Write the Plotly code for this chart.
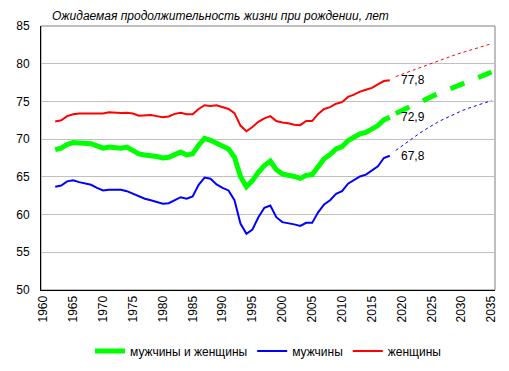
import plotly.graph_objects as go

years = list(range(1962, 2019))
total = [68.6, 68.8, 69.3, 69.55, 69.5, 69.5, 69.4, 69.1, 68.8, 68.95, 68.85, 68.8, 68.95, 68.5,
         68.05, 67.9, 67.85, 67.7, 67.5, 67.6, 67.95, 68.3, 67.9, 68.05, 69.2, 70.1, 69.85, 69.5,
         69.1, 68.7, 67.6, 65.05, 63.7, 64.5, 65.6, 66.5, 67.1, 65.95, 65.4, 65.3, 65.05, 64.8,
         65.2, 65.3, 66.4, 67.4, 67.95, 68.7, 69.0, 69.8, 70.25, 70.7, 70.9, 71.4, 71.8, 72.55, 72.9]
men = [63.7, 63.85, 64.4, 64.55, 64.3, 64.15, 63.95, 63.55, 63.2, 63.3, 63.3, 63.3, 63.1, 62.75,
       62.4, 62.1, 61.9, 61.7, 61.45, 61.5, 61.85, 62.3, 62.1, 62.4, 63.95, 64.9, 64.75, 64.0,
       63.55, 63.2, 61.9, 58.8, 57.45, 58.0, 59.65, 60.9, 61.2, 59.65, 59.0, 58.9, 58.7, 58.5,
       58.9, 58.9, 60.3, 61.35, 61.9, 62.75, 63.1, 64.1, 64.6, 65.05, 65.3, 65.85, 66.4, 67.5, 67.8]
women = [72.35, 72.5, 73.05, 73.3, 73.4, 73.4, 73.4, 73.35, 73.4, 73.55, 73.45, 73.45, 73.5, 73.4,
         73.1, 73.15, 73.2, 73.05, 72.9, 73.0, 73.35, 73.5, 73.3, 73.3, 74.0, 74.5, 74.4, 74.5,
         74.25, 74.0, 73.45, 71.8, 71.05, 71.6, 72.3, 72.75, 73.05, 72.4, 72.2, 72.1, 71.9, 71.85,
         72.4, 72.4, 73.35, 74.0, 74.25, 74.7, 74.9, 75.6, 75.9, 76.3, 76.55, 76.8, 77.25, 77.7, 77.8]

f_years = list(range(2019, 2036))
f_total = [73.4, 73.8, 74.2, 74.6, 74.95, 75.3, 75.65, 76.0, 76.3, 76.65, 77.0, 77.3, 77.6,
           77.95, 78.25, 78.55, 78.9]
f_men = [68.5, 69.1, 69.7, 70.25, 70.8, 71.3, 71.8, 72.25, 72.65, 73.05, 73.4, 73.75, 74.05,
         74.35, 74.6, 74.85, 75.1]
f_women = [78.3, 78.6, 78.9, 79.2, 79.5, 79.8, 80.1, 80.4, 80.7, 80.95, 81.2, 81.45, 81.7,
           81.9, 82.15, 82.4, 82.65]

last_labels = ["72,9", "67,8", "77,8"]

GREEN, BLUE, RED = "#00ff00", "#0000ff", "#ff0000"

# the page body adds an 8px offset, so layout positions are shifted by -8px
OFF = 8
W, H = 509, 371

fig = go.Figure()
fig.add_trace(go.Scatter(x=years, y=total, mode="lines", name="мужчины и женщины",
                         line=dict(color=GREEN, width=5)))
fig.add_trace(go.Scatter(x=years, y=men, mode="lines", name="мужчины",
                         line=dict(color=BLUE, width=2)))
fig.add_trace(go.Scatter(x=years, y=women, mode="lines", name="женщины",
                         line=dict(color=RED, width=2)))
fig.add_trace(go.Scatter(x=f_years, y=f_total, mode="lines", showlegend=False,
                         line=dict(color=GREEN, width=5, dash="dash")))
fig.add_trace(go.Scatter(x=f_years, y=f_men, mode="lines", showlegend=False,
                         line=dict(color=BLUE, width=1, dash="dot")))
fig.add_trace(go.Scatter(x=f_years, y=f_women, mode="lines", showlegend=False,
                         line=dict(color=RED, width=1, dash="dot")))

for series, lab in zip([total, men, women], last_labels):
    fig.add_annotation(x=years[-1], y=series[-1], text=lab, showarrow=False,
                       xanchor="left", yanchor="middle", xshift=9,
                       font=dict(size=12, color="#000000"))

fig.update_layout(
    width=W, height=H,
    margin=dict(l=41 - OFF, r=14 + OFF, t=26 - OFF, b=81 + OFF, autoexpand=False),
    paper_bgcolor="white", plot_bgcolor="white",
    font=dict(family="Liberation Sans, Arial, sans-serif", size=12, color="#000000"),
    title=dict(text="<i>Ожидаемая продолжительность жизни при рождении, лет</i>",
               x=(52 - OFF) / W, xanchor="left", y=1 - 7.5 / H, yanchor="middle",
               font=dict(size=12, color="#000000")),
    legend=dict(orientation="h", x=0.5, xanchor="center",
                yref="container", y=(H - (351 - OFF)) / H, yanchor="middle",
                font=dict(size=12), bgcolor="rgba(0,0,0,0)", itemwidth=30),
    xaxis=dict(range=[1959.62, 2035.6], tickmode="linear", tick0=1960, dtick=5,
               tickangle=-90, showgrid=False, zeroline=False, automargin=False,
               showline=True, linecolor="#000000", linewidth=1, mirror=False,
               ticks="", ticklen=0),
    yaxis=dict(range=[50, 85], tickmode="linear", tick0=50, dtick=5, automargin=False,
               showgrid=True, gridcolor="#c0c0c0", gridwidth=1, zeroline=False,
               showline=True, linecolor="#000000", linewidth=1,
               ticks="", ticklabelstandoff=8),
)
fig.add_shape(type="rect", xref="paper", yref="paper", x0=0, y0=0, x1=1, y1=1,
              line=dict(color="#808080", width=1), layer="below")

fig.write_html("out.html")
